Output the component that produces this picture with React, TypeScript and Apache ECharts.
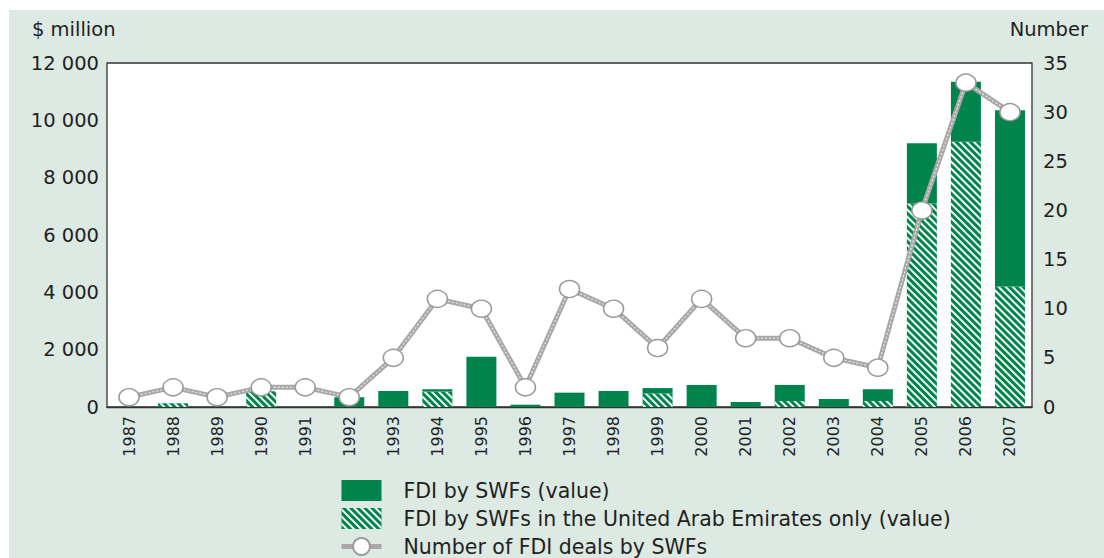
import React, { useEffect, useRef } from "react";
import * as echarts from "echarts";

const years = ["1987", "1988", "1989", "1990", "1991", "1992", "1993", "1994", "1995", "1996", "1997", "1998", "1999", "2000", "2001", "2002", "2003", "2004", "2005", "2006", "2007"];
const totalValue = [0, 130, 0, 550, 0, 340, 560, 620, 1750, 80, 500, 560, 660, 770, 175, 770, 280, 620, 9200, 11350, 10350];
const uaeValue = [0, 130, 0, 550, 0, 0, 0, 540, 0, 0, 0, 0, 475, 0, 0, 210, 0, 210, 7100, 9250, 4200];
const dealCount = [1, 2, 1, 2, 2, 1, 5, 11, 10, 2, 12, 10, 6, 11, 7, 7, 5, 4, 20, 33, 30];

const NAME_TOTAL = "FDI by SWFs (value)";
const NAME_UAE = "FDI by SWFs in the United Arab Emirates only (value)";
const NAME_DEALS = "Number of FDI deals by SWFs";

const GREEN = "#00844c";
const GRAY = "#a8a8a8";
const FONT = "DejaVu Sans";
const TEXT = "#231f20";

const fmt = (v: number) => String(v).replace(/\B(?=(\d{3})+(?!\d))/g, " ");

export default function App() {
  const ref = useRef<HTMLDivElement>(null);
  useEffect(() => {
    if (!ref.current) return;
    const chart = echarts.init(ref.current, null, { renderer: "svg" });
    const rest = totalValue.map((t, i) => Math.max(0, t - uaeValue[i]));
    const decal = {
      symbol: "rect",
      symbolSize: 1,
      color: "rgba(255,255,255,0.95)",
      dashArrayX: [1, 0],
      dashArrayY: [2, 2.5],
      rotation: Math.PI / 4,
    };
    chart.setOption({
      animation: false,
      backgroundColor: "#dde9e3",
      textStyle: { fontFamily: FONT, color: TEXT },
      grid: {
        left: 98,
        top: 53,
        width: 925,
        height: 344,
        show: true,
        backgroundColor: "#ffffff",
        borderColor: "#333333",
        borderWidth: 1.3,
      },
      graphic: [
        { type: "text", left: 23, top: 9, style: { text: "$ million", fontSize: 19.5, fontFamily: FONT, fill: TEXT } },
        { type: "text", right: 16, top: 9, style: { text: "Number", fontSize: 19.5, fontFamily: FONT, fill: TEXT } },
      ],
      legend: {
        orient: "vertical",
        left: 330,
        top: 470,
        height: 100,
        padding: 0,
        itemWidth: 40,
        itemHeight: 21,
        itemGap: 7,
        selectedMode: false,
        textStyle: { fontSize: 20.5, fontFamily: FONT, color: TEXT, padding: [0, 0, 0, 17] },
        data: [
          { name: NAME_TOTAL, icon: "rect" },
          { name: NAME_UAE, icon: "rect" },
          { name: NAME_DEALS, lineStyle: { color: GRAY, width: 5, opacity: 1 } },
        ],
      },
      xAxis: {
        type: "category",
        data: years,
        axisLine: { show: true, lineStyle: { color: "#333", width: 1.3 } },
        axisTick: { show: false },
        axisLabel: { rotate: 90, fontSize: 16, fontFamily: FONT, color: TEXT, margin: 9 },
      },
      yAxis: [
        {
          type: "value",
          min: 0,
          max: 12000,
          interval: 2000,
          axisLine: { show: false },
          axisTick: { show: false },
          splitLine: { show: false },
          axisLabel: { fontSize: 19.5, fontFamily: FONT, color: TEXT, margin: 8, formatter: fmt },
        },
        {
          type: "value",
          min: 0,
          max: 35,
          interval: 5,
          axisLine: { show: false },
          axisTick: { show: false },
          splitLine: { show: false },
          axisLabel: { fontSize: 19.5, fontFamily: FONT, color: TEXT, margin: 11 },
        },
      ],
      series: [
        {
          name: NAME_UAE,
          type: "bar",
          stack: "v",
          barWidth: 30,
          data: uaeValue,
          itemStyle: { color: GREEN, decal },
          z: 2,
        },
        {
          name: NAME_TOTAL,
          type: "bar",
          stack: "v",
          barWidth: 30,
          data: rest,
          itemStyle: { color: GREEN },
          z: 2,
        },
        {
          name: "base",
          type: "line",
          yAxisIndex: 1,
          data: dealCount,
          symbol: "none",
          silent: true,
          lineStyle: { color: GRAY, width: 5 },
          z: 3,
        },
        {
          name: "overlay",
          type: "line",
          yAxisIndex: 1,
          data: dealCount,
          symbol: "none",
          silent: true,
          lineStyle: { color: "#e8e8e8", width: 1.2, type: [2, 2] },
          z: 4,
        },
        {
          name: NAME_DEALS,
          type: "line",
          yAxisIndex: 1,
          data: dealCount,
          symbol: "circle",
          symbolSize: [20, 17],
          itemStyle: { color: "#ffffff", borderColor: "#9a9a9a", borderWidth: 1.5 },
          lineStyle: { width: 0, opacity: 0 },
          z: 5,
        },
      ],
    });
    return () => chart.dispose();
  }, []);
  return (
    <div
      ref={ref}
      style={{ position: "absolute", left: 9, top: 10, width: 1095, height: 548 }}
    />
  );
}
